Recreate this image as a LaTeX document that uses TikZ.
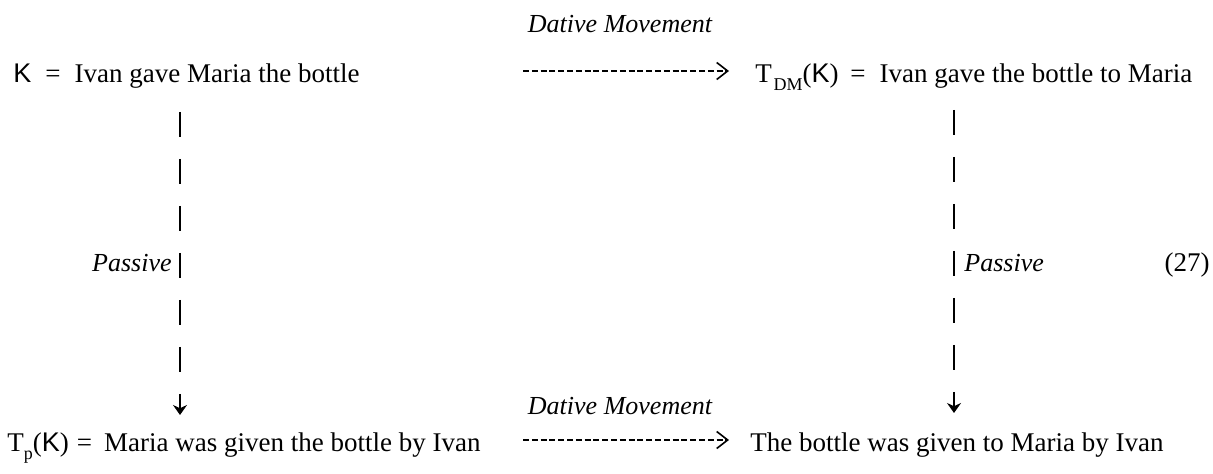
\documentclass[tikz,border=0pt]{standalone}
\usepackage{fontspec}
\setmainfont{Liberation Serif}
\newfontfamily\kfont{Liberation Sans}
\usetikzlibrary{arrows.meta}

\newcommand{\eqgap}[2]{\hskip #1=\hskip #2}
\newcommand{\Ksym}{{\kfont K}}
\newcommand{\lowsub}[1]{\raisebox{-0.6ex}{\fontsize{9}{10}\selectfont #1}}

\begin{document}
\begin{tikzpicture}[x=0.5pt,y=-0.5pt,
  txt/.style={inner sep=0pt,anchor=base west,font=\fontsize{13.5}{15}\selectfont},
  lbl/.style={inner sep=0pt,anchor=base,font=\fontsize{13}{15}\selectfont\itshape},
  dmarrow/.style={line width=0.65pt,dash pattern=on 3pt off 1.4pt,
    -{Straight Barb[length=5.5pt,width=8.5pt,line width=0.8pt]}},
  passarrow/.style={line width=1.3pt,dash pattern=on 12.5pt off 11pt,
    -{Stealth[length=5pt,width=7pt]}}]
\useasboundingbox (0,0) rectangle (1213,474);

% sentences
\node[txt] (k)  at (13,83)  {\Ksym\eqgap{7pt}{7pt}Ivan gave Maria the bottle};
\node[txt] (dm) at (755,83) {T\kern0.8pt\lowsub{DM}(\Ksym)\eqgap{6pt}{7pt}Ivan gave the bottle to Maria};
\node[txt] (p)  at (7,452)  {T\lowsub{p}(\Ksym)\eqgap{4pt}{6pt}Maria was given the bottle by Ivan};
\node[txt] (pdm) at (750,452) {The bottle was given to Maria by Ivan};

% rule labels
\node[lbl] (dmtop) at (620,33)  {Dative Movement};
\node[lbl] (dmbot) at (620,415) {Dative Movement};
\node[lbl,anchor=base east] (pl) at (172,272) {Passive};
\node[lbl,anchor=base west] (pr) at (964,272) {Passive};
\node[txt,anchor=base east] (num) at (1210,272) {(27)};

% connector end points
\coordinate (a1s) at (523,71);  \coordinate (a1e) at (729,71);
\coordinate (a2s) at (523,440); \coordinate (a2e) at (729,440);
\coordinate (l1s) at (180,112); \coordinate (l1e) at (180,415);
\coordinate (r1s) at (954,110); \coordinate (r1e) at (954,413);

% Dative Movement arrows
\draw[dmarrow] (a1s) -- (a1e);
\draw[dmarrow] (a2s) -- (a2e);

% Passive arrows
\draw[passarrow] (l1s) -- (l1e);
\draw[passarrow] (r1s) -- (r1e);
\end{tikzpicture}
\end{document}
